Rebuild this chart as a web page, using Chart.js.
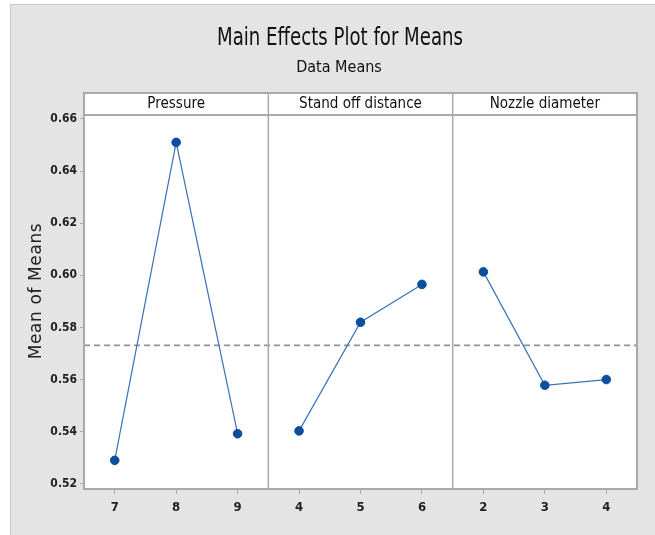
<!DOCTYPE html>
<html>
<head>
<meta charset="utf-8">
<script src="https://cdn.jsdelivr.net/npm/chart.js@4.4.1/dist/chart.umd.min.js"></script>
<style>
  html, body { margin: 0; padding: 0; background: #ffffff; }
  #wrap { width: 655px; height: 535px; position: relative; }
</style>
</head>
<body>
<div id="wrap"><canvas id="c" width="655" height="535"></canvas></div>
<script>
// ---- data ----
const chartTitle = "Main Effects Plot for Means";
const chartSubtitle = "Data Means";
const yAxisTitle = "Mean of Means";
const factorNames = ["Pressure", "Stand off distance", "Nozzle diameter"];
const pressureLevels = ["7", "8", "9"];
const pressureMeans = [0.5290, 0.6510, 0.5392];
const standoffLevels = ["4", "5", "6"];
const standoffMeans = [0.5403, 0.5820, 0.5965];
const nozzleLevels = ["2", "3", "4"];
const nozzleMeans = [0.6013, 0.5578, 0.5600];
const grandMean = 0.5731;
const yTickValues = [0.52, 0.54, 0.56, 0.58, 0.60, 0.62, 0.64, 0.66];
const yMin = 0.518;
const yMax = 0.6615;

// ---- build library structures ----
const groups = [pressureLevels, standoffLevels, nozzleLevels];
const groupMeans = [pressureMeans, standoffMeans, nozzleMeans];
const allLabels = [].concat(...groups);
let offset = 0;
const lineColor = "#3a72b5";
const pointColor = "#0a4f9e";
const datasets = groupMeans.map((vals, gi) => {
  const start = offset;
  offset += vals.length;
  return {
    label: factorNames[gi],
    data: vals.map((v, i) => ({ x: start + i, y: v })),
    borderColor: lineColor,
    borderWidth: 1.2,
    pointRadius: 4.3,
    pointHoverRadius: 4.3,
    pointBackgroundColor: pointColor,
    pointBorderColor: pointColor,
    pointBorderWidth: 1,
    tension: 0,
    order: 1
  };
});
const nSlots = allLabels.length;
datasets.push({
  label: "mean",
  data: [{ x: -0.5, y: grandMean }, { x: nSlots - 0.5, y: grandMean }],
  borderColor: "#929292",
  borderWidth: 1.6,
  borderDash: [6, 4],
  pointRadius: 0,
  order: 2
});

const NARROW = '"DejaVu Sans Condensed", "Liberation Sans", sans-serif';

function scaledText(ctx, text, x, y, sx) {
  ctx.save();
  ctx.translate(x, y);
  ctx.scale(sx, 1);
  ctx.fillText(text, 0, 0);
  ctx.restore();
}

const framePlugin = {
  id: 'frame',
  beforeDraw(chart) {
    const ctx = chart.ctx;
    ctx.save();
    ctx.fillStyle = "#ffffff";
    ctx.fillRect(0, 0, chart.width, chart.height);
    ctx.fillStyle = "#e4e4e4";
    ctx.fillRect(10, 4, chart.width - 10, chart.height - 4);
    ctx.strokeStyle = "#c9c9c9";
    ctx.lineWidth = 1;
    ctx.beginPath();
    ctx.moveTo(10.5, chart.height);
    ctx.lineTo(10.5, 4.5);
    ctx.lineTo(chart.width, 4.5);
    ctx.stroke();
    const a = chart.chartArea;
    ctx.fillStyle = "#ffffff";
    ctx.fillRect(a.left, a.top, a.right - a.left, a.bottom - a.top);
    const hTop = a.top - 22;
    ctx.fillRect(a.left, hTop, a.right - a.left, 22);
    // titles
    ctx.fillStyle = "#111111";
    ctx.textAlign = "center";
    ctx.textBaseline = "middle";
    ctx.font = '24px ' + NARROW;
    scaledText(ctx, chartTitle, 340, 39, 0.84);
    ctx.font = '16px ' + NARROW;
    ctx.fillText(chartSubtitle, 339, 68);
    // y axis title, centred on the panel including header
    ctx.save();
    ctx.font = '17px "DejaVu Sans", sans-serif';
    ctx.fillStyle = "#222222";
    if ('letterSpacing' in ctx) ctx.letterSpacing = '0.6px';
    ctx.translate(37, (hTop + a.bottom) / 2);
    ctx.rotate(-Math.PI / 2);
    ctx.fillText(yAxisTitle, 0, 0);
    ctx.restore();
    ctx.restore();
  },
  afterDatasetsDraw(chart) {
    const ctx = chart.ctx;
    const a = chart.chartArea;
    const xs = chart.scales.x;
    const hTop = a.top - 22;
    ctx.save();
    ctx.strokeStyle = "#a9a9a9";
    ctx.lineWidth = 2;
    ctx.strokeRect(a.left, hTop, a.right - a.left, a.bottom - hTop);
    ctx.beginPath();
    ctx.moveTo(a.left, a.top);
    ctx.lineTo(a.right, a.top);
    ctx.stroke();
    ctx.lineWidth = 1.5;
    let s = 0;
    const bounds = [];
    groups.forEach((g, gi) => {
      const l = xs.getPixelForValue(s - 0.5);
      const r = xs.getPixelForValue(s + g.length - 0.5);
      bounds.push([l, r]);
      if (gi > 0) {
        ctx.beginPath();
        ctx.moveTo(l, hTop);
        ctx.lineTo(l, a.bottom);
        ctx.stroke();
      }
      s += g.length;
    });
    ctx.fillStyle = "#111111";
    ctx.textAlign = "center";
    ctx.textBaseline = "middle";
    ctx.font = '16px ' + NARROW;
    bounds.forEach(([l, r], i) => scaledText(ctx, factorNames[i], (l + r) / 2, hTop + 11, 0.94));
    ctx.restore();
  }
};

new Chart(document.getElementById('c'), {
  type: 'line',
  data: { datasets },
  plugins: [framePlugin],
  options: {
    responsive: false,
    animation: false,
    layout: { padding: { left: 10, top: 115, right: 18, bottom: 0 } },
    plugins: { legend: { display: false }, tooltip: { enabled: false }, title: { display: false } },
    scales: {
      x: {
        type: 'linear',
        min: -0.5,
        max: nSlots - 0.5,
        afterBuildTicks: (sc) => { sc.ticks = allLabels.map((_, i) => ({ value: i })); },
        afterFit: (sc) => { sc.height = 46; },
        ticks: {
          callback: (v) => allLabels[v],
          color: "#222222",
          font: { family: NARROW, size: 13, weight: 'bold' },
          padding: 6,
          maxRotation: 0,
          autoSkip: false
        },
        grid: { drawOnChartArea: false, drawTicks: true, tickLength: 5, color: "#a9a9a9", tickWidth: 1 },
        border: { display: false }
      },
      y: {
        type: 'linear',
        min: yMin,
        max: yMax,
        afterBuildTicks: (sc) => { sc.ticks = yTickValues.map(v => ({ value: v })); },
        afterFit: (sc) => { sc.width = 74; },
        ticks: {
          callback: (v) => v.toFixed(2),
          color: "#222222",
          font: { family: NARROW, size: 12, weight: 'bold' },
          padding: 3
        },
        grid: { drawOnChartArea: false, drawTicks: true, tickLength: 4, color: "#a9a9a9", tickWidth: 1 },
        border: { display: false },
        title: { display: false }
      }
    }
  }
});
</script>
</body>
</html>
